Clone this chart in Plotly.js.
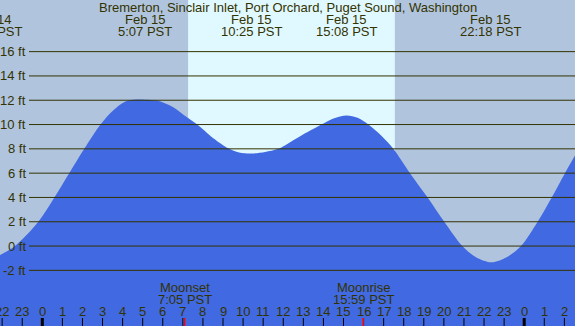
<!DOCTYPE html>
<html>
<head>
<meta charset="utf-8">
<script src="https://cdn.plot.ly/plotly-3.0.1.min.js"></script>
<style>html,body{margin:0;padding:0;background:#b0c4de;}#chart{width:575px;height:326px;}</style>
</head>
<body>
<div id="chart"></div>
<script>
// ---- data (hours since Feb 15 00:00 PST, feet) ----
const tideHours = [-2.1, -1.36, -0.2, 0.6, 1.34, 2.09, 2.9, 3.54, 4.2, 5.12, 5.7, 6.5, 7.19, 7.72, 8.5, 9.26, 9.8, 10.43, 11.1, 11.75, 12.8, 13.9, 14.5, 15.16, 15.7, 16.24, 16.9, 17.48, 18.31, 19.19, 20.02, 20.92, 21.6, 22.38, 23.1, 23.84, 24.67, 25.37, 26.03, 26.55];
const tideFeet  = [-0.74, 0, 2, 4, 6, 8, 10, 11.17, 11.94, 12.05, 11.97, 11.45, 10.62, 10, 8.9, 8.05, 7.7, 7.62, 7.75, 8, 9, 10, 10.5, 10.74, 10.55, 10, 9.05, 8, 6, 4, 2, 0, -0.92, -1.34, -0.95, 0, 2, 4, 6, 7.5];

const extremeHours = [-2.55, 5.117, 10.417, 15.133, 22.3];
const extremeDates = ["Feb 14", "Feb 15", "Feb 15", "Feb 15", "Feb 15"];
const extremeTimes = ["21:27 PST", "5:07 PST", "10:25 PST", "15:08 PST", "22:18 PST"];

const moonHours = [7.083, 15.983];
const moonNames = ["Moonset", "Moonrise"];
const moonTimes = ["7:05 PST", "15:59 PST"];

const sunrise = 7.26;
const sunset = 17.56;

const gridFeet = [16, 14, 12, 10, 8, 6, 4, 2, 0, -2];
const gridLabels = ["16 ft", "14 ft", "12 ft", "10 ft", "8 ft", "6 ft", "4 ft", "2 ft", "0 ft", "-2 ft"];

const tickHours = [-2, -1, 0, 1, 2, 3, 4, 5, 6, 7, 8, 9, 10, 11, 12, 13, 14, 15, 16, 17, 18, 19, 20, 21, 22, 23, 24, 25, 26];
const tickLabels = ["22", "23", "0", "1", "2", "3", "4", "5", "6", "7", "8", "9", "10", "11", "12", "13", "14", "15", "16", "17", "18", "19", "20", "21", "22", "23", "0", "1", "2"];
const midnightHours = [0, 24];

const titleText = "Bremerton, Sinclair Inlet, Port Orchard, Puget Sound, Washington";

// ---- layout constants ----
const W = 575, H = 326;
const xMin = -2.107, xMax = 26.53;
const yMin = -6.58, yMax = 20.25;
const pxPerHour = W / (xMax - xMin);
const TXT = "#333300";
const FONT = {family: "Liberation Sans, Arial, sans-serif", size: 13, color: TXT};
const py = p => 1 - p / H;   // pixel row -> paper fraction

const traces = [
  {x: [xMin - 1, xMax + 1], y: [yMin - 1, yMin - 1], mode: "lines", line: {width: 0}, hoverinfo: "skip", showlegend: false},
  {x: tideHours, y: tideFeet, mode: "lines", line: {width: 0, shape: "spline", smoothing: 0.9}, fill: "tonexty", fillcolor: "#4169e1", hoverinfo: "skip", showlegend: false}
];

const shapes = [];
shapes.push({type: "rect", xref: "x", yref: "paper", x0: sunrise, x1: sunset, y0: 0, y1: 1, fillcolor: "#e0f8ff", line: {width: 0}, layer: "below"});
gridFeet.forEach(f => shapes.push({type: "line", xref: "paper", yref: "y", x0: 29 / W, x1: 1, y0: f, y1: f, line: {color: TXT, width: 1}, layer: "above"}));
tickHours.forEach(h => shapes.push({type: "line", xref: "x", yref: "paper", x0: h, x1: h, y0: 0, y1: 8 / H, line: {color: "#000000", width: 1}, layer: "above"}));
midnightHours.forEach(h => shapes.push({type: "line", xref: "x", yref: "paper", x0: h, x1: h, y0: 0, y1: 8 / H, line: {color: "#000000", width: 3}, layer: "above"}));
moonHours.forEach(h => shapes.push({type: "line", xref: "x", yref: "paper", x0: h, x1: h, y0: 0, y1: 8 / H, line: {color: "#ff0000", width: 1.5}, layer: "above"}));

const annotations = [];
const ann = (o) => Object.assign({showarrow: false, font: FONT, yanchor: "middle", xanchor: "center", borderpad: 0}, o);
annotations.push(ann({text: titleText, xref: "paper", yref: "paper", x: 0.5, y: py(8)}));
extremeHours.forEach((h, i) => {
  const inRange = h >= xMin;
  const xv = inRange ? h : xMin;
  const xs = inRange ? 0 : (h - xMin) * pxPerHour;
  annotations.push(ann({text: extremeDates[i], xref: "x", yref: "paper", x: xv, xshift: xs, y: py(19.5)}));
  annotations.push(ann({text: extremeTimes[i], xref: "x", yref: "paper", x: xv, xshift: xs, y: py(31.5)}));
});
moonHours.forEach((h, i) => {
  annotations.push(ann({text: moonNames[i], xref: "x", yref: "paper", x: h, y: py(287.5)}));
  annotations.push(ann({text: moonTimes[i], xref: "x", yref: "paper", x: h, y: py(299.5)}));
});
gridFeet.forEach((f, i) => annotations.push(ann({text: gridLabels[i], xref: "paper", yref: "y", x: 27 / W, y: f, xanchor: "right"})));
tickHours.forEach((h, i) => annotations.push(ann({text: tickLabels[i], xref: "x", yref: "paper", x: h, y: py(311)})));

const layout = {
  width: W, height: H,
  margin: {l: 0, r: 0, t: 0, b: 0, pad: 0},
  paper_bgcolor: "#b0c4de",
  plot_bgcolor: "#b0c4de",
  xaxis: {range: [xMin, xMax], visible: false, fixedrange: true},
  yaxis: {range: [yMin, yMax], visible: false, fixedrange: true},
  shapes: shapes,
  annotations: annotations,
  showlegend: false
};

Plotly.newPlot("chart", traces, layout, {staticPlot: true, displayModeBar: false});
</script>
</body>
</html>
